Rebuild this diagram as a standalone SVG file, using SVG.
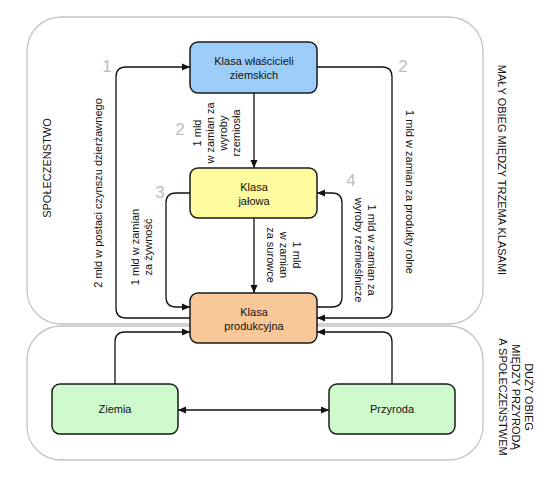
<svg xmlns="http://www.w3.org/2000/svg" width="555" height="480" viewBox="0 0 555 480">
<style>
text{font-family:"Liberation Sans",Arial,sans-serif;font-size:11px;fill:#111;text-anchor:middle;dominant-baseline:central}
.panel{fill:#fff;stroke:#c4c4c4;stroke-width:1.3}
.node{stroke:#1a1a1a;stroke-width:1.5}
.num{font-size:17px;fill:#bdbdbd}
.conn path{fill:none;stroke:#111;stroke-width:1.3}
</style>
<defs>
<marker id="arr" viewBox="0 0 8 8" refX="8" refY="4" markerWidth="8" markerHeight="8" markerUnits="userSpaceOnUse" orient="auto-start-reverse">
<path d="M0,0.5 L8,4 L0,7.5 z" fill="#111"/>
</marker>
</defs>
<rect width="555" height="480" fill="#fff"/>
<g id="panel-small">
<rect class="panel" x="27" y="17" width="456" height="307" rx="34" ry="34"/>
<text transform="translate(47,168) rotate(-90)">SPOŁECZEŃSTWO</text>
<text transform="translate(502,170) rotate(90)">MAŁY OBIEG MIĘDZY TRZEMA KLASAMI</text>
</g>
<g id="panel-large">
<rect class="panel" x="27" y="326" width="456" height="134" rx="34" ry="34"/>
<text transform="translate(516,397) rotate(90)"><tspan x="0" y="-13">DUŻY OBIEG</tspan><tspan x="0" y="0">MIĘDZY PRZYRODĄ</tspan><tspan x="0" y="13">A SPOŁECZEŃSTWEM</tspan></text>
</g>
<g class="conn" id="connectors">
<path d="M190,318 H126 Q116,318 116,308 V77 Q116,67 126,67 H190" marker-end="url(#arr)"/>
<path d="M317,67 H382 Q392,67 392,77 V308 Q392,318 382,318 H317" marker-end="url(#arr)"/>
<path d="M190,193 H176 Q166,193 166,203 V297 Q166,307 176,307 H190" marker-end="url(#arr)"/>
<path d="M317,307 H332 Q342,307 342,297 V203 Q342,193 332,193 H317" marker-end="url(#arr)"/>
<path d="M254,93 V168" marker-end="url(#arr)"/>
<path d="M254,218 V293" marker-end="url(#arr)"/>
<path d="M115,384 V342 Q115,332 125,332 H190" marker-end="url(#arr)"/>
<path d="M392,384 V342 Q392,332 382,332 H317" marker-end="url(#arr)"/>
<path d="M178,410 H329" marker-start="url(#arr)" marker-end="url(#arr)"/>
</g>
<g id="labels">
<text class="num" x="107" y="66">1</text>
<text class="num" x="403" y="66">2</text>
<text class="num" x="180" y="129">2</text>
<text class="num" x="160" y="192">3</text>
<text class="num" x="351" y="180">4</text>
<text transform="translate(98,193) rotate(-90)">2 mld w postaci czynszu dzierżawnego</text>
<text transform="translate(216.5,133) rotate(-90)"><tspan x="0" y="-19.5">1 mld</tspan><tspan x="0" y="-6.5">w zamian za</tspan><tspan x="0" y="6.5">wyroby</tspan><tspan x="0" y="19.5">rzemiosła</tspan></text>
<text transform="translate(141.5,247) rotate(-90)"><tspan x="0" y="-6.5">1 mld w zamian</tspan><tspan x="0" y="6.5">za żywność</tspan></text>
<text transform="translate(283.5,255) rotate(90)"><tspan x="0" y="-13">1 mld</tspan><tspan x="0" y="0">w zamian</tspan><tspan x="0" y="13">za surowce</tspan></text>
<text transform="translate(365.5,250) rotate(90)"><tspan x="0" y="-6.5">1 mld w zamian za</tspan><tspan x="0" y="6.5">wyroby rzemieślnicze</tspan></text>
<text transform="translate(410,192) rotate(90)">1 mld w zamian za produkty rolne</text>
</g>
<g id="node-wlasciciele">
<rect class="node" x="190" y="42" width="127" height="51" rx="8" fill="#9ccdf9"/>
<text x="254" y="61">Klasa właścicieli</text>
<text x="254" y="75">ziemskich</text>
</g>
<g id="node-jalowa">
<rect class="node" x="190" y="168" width="127" height="50" rx="8" fill="#fdfb9d"/>
<text x="254" y="187">Klasa</text>
<text x="254" y="201">jałowa</text>
</g>
<g id="node-produkcyjna">
<rect class="node" x="190" y="293" width="127" height="50" rx="8" fill="#f9c898"/>
<text x="254" y="312">Klasa</text>
<text x="254" y="326">produkcyjna</text>
</g>
<g id="node-ziemia">
<rect class="node" x="52" y="384" width="126" height="50" rx="8" fill="#cdf9cd"/>
<text x="115" y="409">Ziemia</text>
</g>
<g id="node-przyroda">
<rect class="node" x="329" y="384" width="126" height="50" rx="8" fill="#cdf9cd"/>
<text x="392" y="409">Przyroda</text>
</g>
</svg>
